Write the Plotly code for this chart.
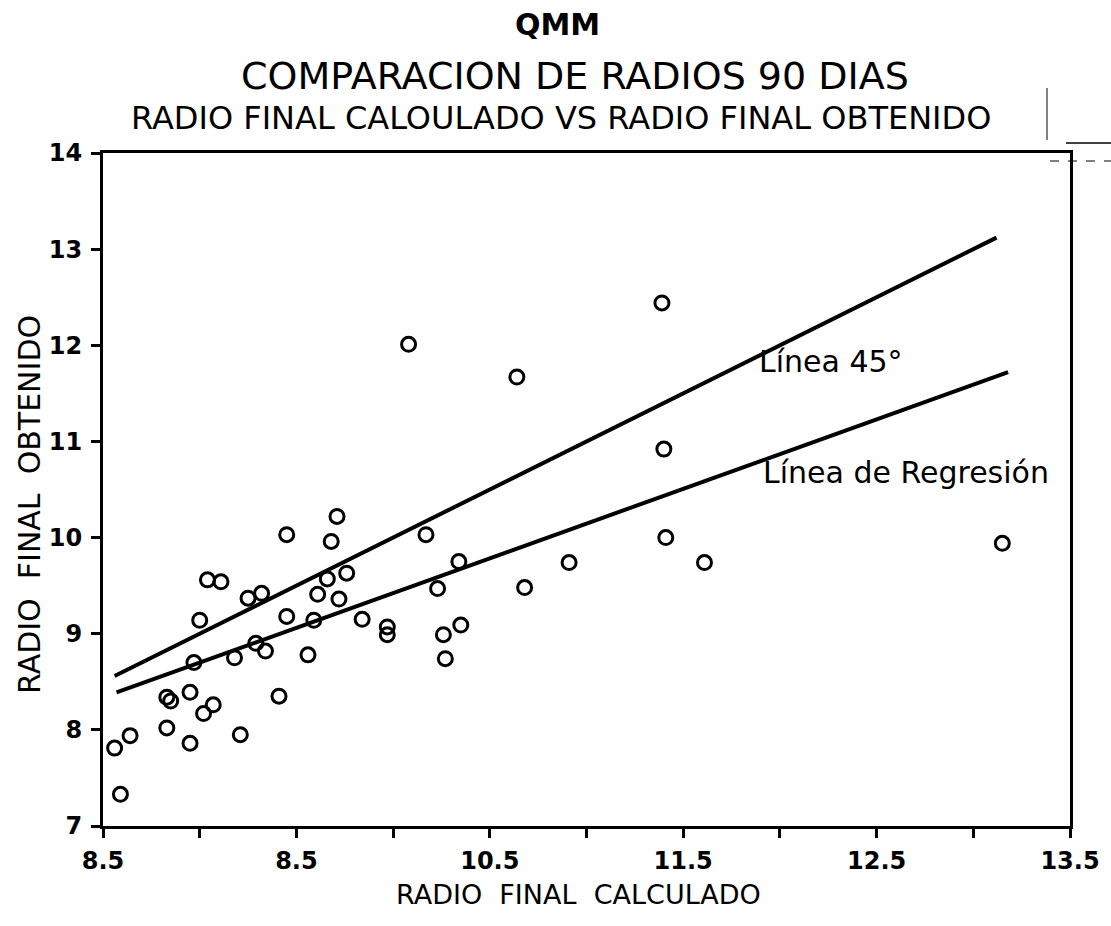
import plotly.graph_objects as go

# Radio final calculado (x) vs radio final obtenido (y), 90 dias
radio_calculado = [
    9.04, 9.11, 9.25, 9.32, 9.66, 9.76, 9.61, 9.72, 9.00, 9.45,
    9.59, 9.84, 9.97, 9.97, 8.97, 9.18, 9.29, 9.34, 9.56, 8.83,
    8.85, 8.95, 9.07, 9.02, 9.41, 8.83, 8.95, 9.21, 8.64, 8.56,
    8.59, 9.71, 9.45, 9.68, 10.17, 10.34, 10.68, 10.23, 10.35, 10.26,
    10.27, 10.08, 10.64, 11.39, 11.40, 10.91, 11.41, 11.61, 13.15,
]
radio_obtenido = [
    9.56, 9.54, 9.37, 9.42, 9.57, 9.63, 9.41, 9.36, 9.14, 9.18,
    9.14, 9.15, 9.07, 8.99, 8.70, 8.75, 8.90, 8.82, 8.78, 8.34,
    8.30, 8.39, 8.26, 8.17, 8.35, 8.02, 7.86, 7.95, 7.94, 7.81,
    7.33, 10.22, 10.03, 9.96, 10.03, 9.75, 9.48, 9.47, 9.09, 8.99,
    8.74, 12.01, 11.67, 12.44, 10.92, 9.74, 10.00, 9.74, 9.94,
]

# Linea de 45 grados (y = x)
linea45_x = [8.56, 13.12]
linea45_y = [8.56, 13.12]

# Linea de regresion (extremos)
regresion_x = [8.57, 13.18]
regresion_y = [8.39, 11.72]

x_tick_vals = [8.5, 9.0, 9.5, 10.0, 10.5, 11.0, 11.5, 12.0, 12.5, 13.0, 13.5]
x_tick_text = ["8.5", "", "8.5", "", "10.5", "", "11.5", "", "12.5", "", "13.5"]
y_tick_vals = [7, 8, 9, 10, 11, 12, 13, 14]
y_tick_text = ["7", "8", "9", "10", "11", "12", "13", "14"]

W, H = 1111, 926
L, R, T, B = 103, 1070, 153, 826  # plot area edges in pixels


def px(x):
    return (x - L) / (R - L)


def py(y):
    return (B - y) / (B - T)


FONT = "DejaVu Sans"
INK = "black"

fig = go.Figure()

fig.add_trace(go.Scatter(
    x=linea45_x, y=linea45_y, mode="lines",
    line=dict(color=INK, width=4), hoverinfo="skip", showlegend=False,
))
fig.add_trace(go.Scatter(
    x=regresion_x, y=regresion_y, mode="lines",
    line=dict(color=INK, width=4), hoverinfo="skip", showlegend=False,
))
fig.add_trace(go.Scatter(
    x=radio_calculado, y=radio_obtenido, mode="markers",
    marker=dict(symbol="circle-open", size=14, color=INK,
                line=dict(color=INK, width=3)),
    showlegend=False,
))


def label(text, x, y, size, angle=0):
    return dict(text=text, x=px(x), y=py(y), xref="paper", yref="paper",
                xanchor="center", yanchor="middle", showarrow=False,
                textangle=angle, font=dict(family=FONT, size=size, color=INK))


annotations = [
    label("<b>QMM</b>", 557, 24, 30),
    label("COMPARACION DE RADIOS 90 DIAS", 575, 76, 38),
    label("RADIO FINAL CALOULADO VS RADIO FINAL OBTENIDO", 561, 118, 32),
    label("RADIO  FINAL  CALCULADO", 578, 894, 27),
    label("RADIO  FINAL  OBTENIDO", 30, 505, 30, angle=-90),
    dict(text="Línea 45°", x=11.88, y=11.83, xref="x", yref="y",
         xanchor="left", yanchor="middle", showarrow=False,
         font=dict(family=FONT, size=30, color=INK)),
    dict(text="Línea de Regresión", x=11.90, y=10.68, xref="x", yref="y",
         xanchor="left", yanchor="middle", showarrow=False,
         font=dict(family=FONT, size=30, color=INK)),
]

# small registration marks above the top-right corner
shapes = [
    dict(type="line", xref="paper", yref="paper",
         x0=px(1047), y0=py(88), x1=px(1047), y1=py(140),
         line=dict(color=INK, width=1)),
    dict(type="line", xref="paper", yref="paper",
         x0=px(1066), y0=py(143), x1=px(1111), y1=py(143),
         line=dict(color=INK, width=1.5)),
    dict(type="line", xref="paper", yref="paper",
         x0=px(1050), y0=py(161), x1=px(1111), y1=py(161),
         line=dict(color=INK, width=1, dash="dash")),
]

axis_common = dict(
    showline=True, linewidth=3, linecolor=INK, mirror=True,
    ticks="outside", ticklen=9, tickwidth=2.5, tickcolor=INK,
    showgrid=False, zeroline=False,
    tickfont=dict(family=FONT, size=24, color=INK, weight="bold"),
)

fig.update_layout(
    width=W, height=H, autosize=False,
    margin=dict(l=L, r=W - R, t=T, b=H - B),
    paper_bgcolor="white", plot_bgcolor="white",
    xaxis=dict(range=[8.5, 13.5], tickmode="array", tickvals=x_tick_vals,
               ticktext=x_tick_text, ticklabelstandoff=2, **axis_common),
    yaxis=dict(range=[7, 14], tickmode="array", tickvals=y_tick_vals,
               ticktext=y_tick_text, ticklabelstandoff=4, **axis_common),
    annotations=annotations,
    shapes=shapes,
    showlegend=False,
)

fig.write_html("out.html")
